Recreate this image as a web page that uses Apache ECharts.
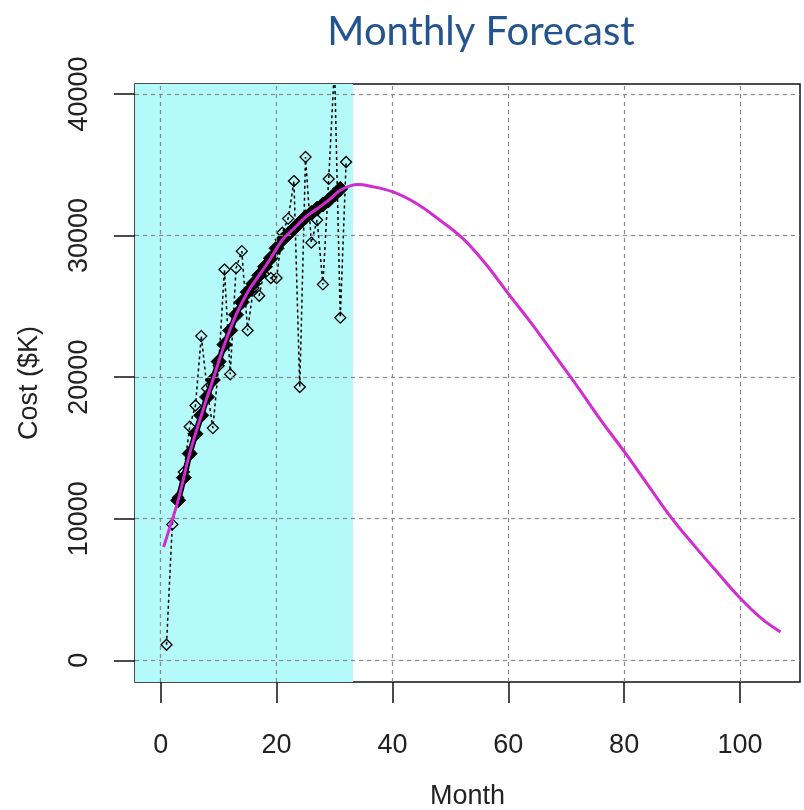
<!DOCTYPE html>
<html>
<head>
<meta charset="utf-8">
<script src="https://cdn.jsdelivr.net/npm/echarts@6/dist/echarts.min.js"></script>
<style>
html,body{margin:0;padding:0;background:#fff;}
#c{width:804px;height:810px;}
</style>
</head>
<body>
<div id="c"></div>
<script>
// ---- data ----
const obsMonths = [1,2,3,4,5,6,7,8,9,10,11,12,13,14,15,16,17,18,19,20,21,22,23,24,25,26,27,28,29,30,31,32];
const obsValues = [1100,9600,11500,13300,16500,18000,22900,19200,16400,20800,27600,20200,27700,28900,23300,26300,25750,27800,27000,27000,30200,31200,33850,19300,35550,29500,31100,26550,34000,42000,24200,35200];

const fitMonths = [3,4,5,6,7,8,9,10,11,12,13,14,15,16,17,18,19,20,21,22,23,24,25,26,27,28,29,30,31];
const fitValues = [11300,12900,14600,16000,17300,18600,19800,21100,22300,23300,24400,25300,26000,26600,27200,27800,28400,29100,29700,30100,30500,30900,31300,31600,31900,32200,32500,32900,33300];

const fcMonths = [0.5,1.5,3,5,7,9,11,13,15,17,19,21,23,25,27,29,31,33,34,36,40,44,48,52,56,60,64,68,72,76,80,84,88,92,96,100,104,107];
const fcValues = [8000,9300,11300,14600,17300,19800,22300,24400,26000,27200,28400,29700,30500,31300,31900,32500,33200,33550,33600,33500,33100,32300,31150,29850,28050,25900,23800,21550,19300,16950,14750,12450,10150,8150,6250,4400,2850,2000];

const xTicks = [0,20,40,60,80,100];
const yTicks = [0,10000,20000,30000,40000];
const historyEnd = 33.2;

const title = 'Monthly Forecast';
const xName = 'Month';
const yName = 'Cost ($K)';

// ---- chart ----
const zip = (a, b) => a.map((v, i) => [v, b[i]]);
const axisFont = {fontFamily: 'Liberation Sans, Arial, sans-serif', fontSize: 27, color: '#222'};
const xMin = -4.44, xMax = 110.36, yMin = -1534, yMax = 40707;

const chart = echarts.init(document.getElementById('c'), null, {renderer: 'canvas'});
chart.setOption({
  animation: false,
  backgroundColor: '#fff',
  title: {
    text: title,
    left: 476,
    top: 7,
    textAlign: 'center',
    textStyle: {fontFamily: 'Lato, sans-serif', fontWeight: 'normal', fontSize: 40, color: '#24548F'}
  },
  grid: {left: 135, top: 84, right: 4, bottom: 128, containLabel: false, outerBoundsMode: 'none',
         show: true, borderColor: '#111', borderWidth: 1.5, backgroundColor: 'transparent'},
  xAxis: {
    type: 'value', min: xMin, max: xMax,
    name: xName, nameLocation: 'middle', nameGap: 101,
    nameTextStyle: axisFont,
    axisLine: {show: false, onZero: false},
    splitLine: {show: false},
    axisTick: {show: true, inside: false, length: 21, lineStyle: {color: '#111', width: 1.5}, customValues: xTicks},
    axisLabel: {show: true, margin: 50, customValues: xTicks, formatter: v => String(v), ...axisFont}
  },
  yAxis: {
    type: 'value', min: yMin, max: yMax,
    name: yName, nameLocation: 'middle', nameGap: 92, nameRotate: 90,
    nameTextStyle: axisFont,
    axisLine: {show: false, onZero: false},
    splitLine: {show: false},
    axisTick: {show: true, inside: false, length: 21, lineStyle: {color: '#111', width: 1.5}, customValues: yTicks},
    axisLabel: {show: true, rotate: 90, margin: 42, customValues: yTicks, formatter: v => String(v), ...axisFont}
  },
  series: [
    {
      name: 'history', type: 'line', data: [], z: 1, silent: true,
      markArea: {
        silent: true,
        itemStyle: {color: '#B4FAFA'},
        data: [[{xAxis: xMin}, {xAxis: historyEnd}]]
      }
    },
    {
      name: 'grid', type: 'line', data: [], z: 2, silent: true,
      markLine: {
        silent: true, symbol: ['none', 'none'], label: {show: false},
        lineStyle: {type: [4, 4], color: '#8a8a8a', width: 1.2},
        data: xTicks.map(v => ({xAxis: v})).concat(yTicks.map(v => ({yAxis: v})))
      }
    },
    {
      name: 'Observed', type: 'line', z: 3,
      data: zip(obsMonths, obsValues),
      symbol: 'diamond', symbolSize: 11, showAllSymbol: true,
      lineStyle: {color: '#000', width: 1.5, type: [3, 3]},
      itemStyle: {color: 'rgba(0,0,0,0)', borderColor: '#000', borderWidth: 1.3}
    },
    {
      name: 'Fitted', type: 'line', z: 4,
      data: zip(fitMonths, fitValues),
      symbol: 'diamond', symbolSize: 15, showAllSymbol: true,
      lineStyle: {color: '#000', width: 6},
      itemStyle: {color: '#000', borderColor: '#000'}
    },
    {
      name: 'Forecast', type: 'line', z: 5,
      data: zip(fcMonths, fcValues),
      symbol: 'none', smooth: 0.4,
      lineStyle: {color: '#D22BD2', width: 3}
    }
  ]
});
</script>
</body>
</html>
